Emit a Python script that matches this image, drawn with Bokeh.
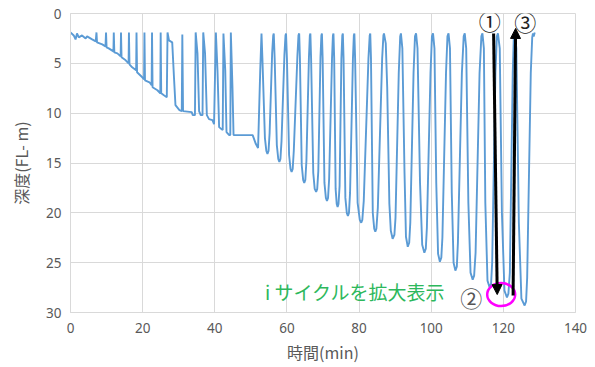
from bokeh.plotting import figure
from bokeh.models import Range1d, FixedTicker, Arrow, NormalHead
from bokeh.core.properties import value
from bokeh.embed import file_html
from bokeh.resources import INLINE

# ---------------- data ----------------
x_ticks = [0, 20, 40, 60, 80, 100, 120, 140]
y_ticks = [0, 5, 10, 15, 20, 25, 30]

# phase 1: slow descent with short surface spikes (0 - 53 min)
phase1_time = [0.0, 0.9, 1.4, 1.8, 2.3, 3.2, 4.2, 4.6, 6.0, 7.0,
               7.2, 7.35, 8.8, 9.7, 9.85, 10.0, 10.6, 11.9, 12.0, 12.15,
               13.0, 13.9, 14.0, 14.15, 15.3, 16.1, 16.2, 16.35, 17.1, 18.2,
               18.3, 18.45, 19.9, 20.4, 20.5, 20.65, 21.9, 22.5, 22.6, 22.75,
               24.1, 24.9, 25.0, 25.15, 25.9, 26.7, 26.9, 27.3, 28.2, 28.7,
               29.1, 30.2, 30.85, 31.0, 31.2, 33.6, 33.9, 34.5, 34.7, 35.2,
               35.65, 36.1, 36.6, 36.8, 37.3, 37.8, 38.4, 39.35, 39.8, 40.3,
               40.75, 41.2, 41.85, 42.2, 42.4, 42.9, 43.25, 44.0, 44.3, 44.45,
               44.9, 45.2, 50.5, 51.4, 52.0, 52.6, 52.95]
phase1_depth = [1.9, 2.2, 2.6, 2.0, 2.4, 2.2, 2.5, 2.3, 2.6, 2.8,
                1.9, 2.9, 3.1, 3.3, 1.9, 3.4, 3.5, 3.8, 1.9, 3.9,
                4.0, 4.3, 1.9, 4.4, 4.7, 5.0, 1.9, 5.1, 5.4, 5.7,
                1.9, 5.9, 6.4, 6.6, 1.9, 6.7, 6.9, 7.2, 1.9, 7.4,
                7.7, 8.0, 1.9, 8.0, 8.2, 8.4, 1.9, 2.7, 2.9, 6.5,
                9.2, 9.7, 9.8, 2.1, 9.8, 9.9, 10.2, 10.2, 1.9, 4.0,
                9.8, 10.2, 10.2, 1.9, 4.0, 10.2, 10.6, 10.7, 11.1, 1.9,
                5.7, 11.4, 11.6, 11.7, 2.0, 5.7, 11.9, 12.2, 12.2, 1.9,
                7.4, 12.2, 12.2, 13.1, 13.5, 5.7, 2.0]

# phase 2: repeated deep dives (53 - 129 min)
phase2_time = [53.2, 53.9, 54.3, 54.6, 54.9, 55.2, 55.9, 56.2, 56.35,
               56.6, 57.2, 57.6, 57.9, 58.2, 58.5, 59.3, 59.6, 59.75,
               60.0, 60.6, 61.0, 61.3, 61.6, 61.9, 62.9, 63.2, 63.4,
               63.6, 64.1, 64.5, 64.8, 65.1, 65.4, 66.1, 66.35, 66.5,
               66.7, 67.3, 67.7, 68.1, 68.4, 68.7, 69.3, 69.55, 69.7,
               69.9, 70.4, 70.8, 71.1, 71.4, 71.7, 72.5, 72.75, 72.9,
               73.1, 73.5, 73.8, 74.05, 74.3, 74.6, 75.1, 75.35, 75.5,
               75.7, 76.2, 76.6, 76.9, 77.2, 77.5, 78.3, 78.55, 78.7,
               78.9, 79.6, 80.2, 80.6, 80.9, 81.3, 82.6, 82.95, 83.1,
               83.3, 83.8, 84.2, 84.5, 84.8, 85.2, 86.4, 86.75, 86.9,
               87.4, 87.8, 88.4, 88.8, 89.3, 89.8, 90.1, 91.0, 91.4, 91.6,
               92.0, 92.6, 93.0, 93.5, 93.9, 94.2, 95.1, 95.5, 95.8,
               96.2, 96.9, 97.5, 98.1, 98.5, 98.8, 99.8, 100.2, 100.5,
               100.9, 101.4, 101.9, 102.4, 102.8, 103.1, 104.1, 104.5, 104.8,
               105.2, 105.7, 106.2, 106.7, 107.1, 107.4, 108.5, 109.0, 109.3,
               109.7, 110.3, 110.9, 111.5, 111.9, 112.3, 113.4, 113.9, 114.2,
               114.6, 115.0, 115.6, 116.2, 116.6, 116.9, 117.8, 118.2, 118.5,
               119.0, 119.6, 120.3, 121.0, 121.4, 121.8, 122.6, 122.9, 123.2,
               123.6, 124.3, 125.0, 125.9, 126.3, 126.6, 127.6, 128.0, 128.2,
               128.4, 128.7]
phase2_depth = [4.5, 12.5, 13.8, 14.1, 13.8, 12.0, 4.0, 2.2, 2.0,
                4.5, 13.2, 14.6, 14.9, 14.6, 12.8, 4.2, 2.2, 2.0,
                4.5, 14.2, 15.6, 15.9, 15.6, 13.8, 4.3, 2.2, 2.0,
                4.5, 15.2, 16.7, 17.0, 16.7, 14.8, 4.4, 2.2, 2.0,
                4.5, 16.0, 17.6, 17.9, 17.6, 15.8, 4.4, 2.2, 2.0,
                4.5, 17.0, 18.5, 18.8, 18.5, 16.6, 4.5, 2.2, 2.0,
                4.5, 17.6, 19.1, 19.4, 19.1, 17.3, 4.5, 2.2, 2.0,
                4.5, 18.5, 20.0, 20.3, 20.0, 18.0, 4.5, 2.2, 2.0,
                4.5, 19.0, 20.7, 21.0, 20.7, 18.8, 4.5, 2.2, 2.0,
                4.5, 20.0, 21.6, 21.9, 21.6, 19.5, 4.5, 2.2, 2.0,
                3.0, 7.4, 19.1, 21.8, 22.6, 22.2, 20.5, 6.0, 2.3, 2.0,
                3.5, 16.0, 22.4, 23.4, 23.0, 21.0, 6.0, 2.3, 2.0,
                3.5, 17.0, 23.2, 24.0, 23.6, 21.5, 6.0, 2.3, 2.0,
                3.5, 17.0, 24.1, 24.9, 24.5, 22.5, 6.0, 2.3, 2.0,
                3.5, 18.0, 25.0, 25.8, 25.4, 23.0, 6.0, 2.3, 2.0,
                3.5, 19.0, 26.0, 26.7, 26.3, 24.0, 6.0, 2.3, 2.0,
                3.5, 19.0, 26.8, 27.5, 27.1, 25.0, 6.0, 2.3, 2.0,
                3.5, 20.0, 27.8, 28.5, 28.1, 26.0, 6.0, 2.3, 2.0,
                3.5, 21.0, 28.6, 29.3, 28.9, 26.5, 6.0, 2.4, 2.0,
                2.3, 1.9]

# annotations (data coordinates: minutes, metres)
arrow_down = (117.3, 2.0, 118.3, 28.2)
arrow_up = (122.7, 28.3, 123.4, 1.5)
circled_labels = ["①", "②", "③"]
circled_x = [116.2, 111.1, 126.1]
circled_y = [0.7, 28.45, 0.75]
circled_colors = ["#222222", "#555555", "#222222"]
note_text = "i サイクルを拡大表示"
note_pos = (53.9, 27.9)
ellipse_pos = (119.4, 28.2)

time_all = phase1_time + phase2_time
depth_all = phase1_depth + phase2_depth

# ---------------- figure ----------------
p = figure(width=595, height=367,
           x_range=Range1d(0, 140), y_range=Range1d(30, 0),
           output_backend="svg", toolbar_location=None,
           min_border_left=70, min_border_right=20,
           min_border_top=13, min_border_bottom=55)
p.background_fill_color = "white"
p.border_fill_color = "white"
p.outline_line_color = "#D9D9D9"

p.xaxis.ticker = FixedTicker(ticks=x_ticks)
p.yaxis.ticker = FixedTicker(ticks=y_ticks)
for ax in (p.xaxis[0], p.yaxis[0]):
    ax.axis_line_color = "#D9D9D9"
    ax.major_tick_line_color = None
    ax.minor_tick_line_color = None
    ax.major_tick_out = 0
    ax.major_tick_in = 0
    ax.major_label_text_font = "Noto Sans"
    ax.major_label_text_font_size = "13.5px"
    ax.major_label_text_color = "#595959"
    ax.axis_label_text_font = "Noto Sans CJK JP"
    ax.axis_label_text_font_size = "16px"
    ax.axis_label_text_font_style = "normal"
    ax.axis_label_text_color = "#595959"
p.xaxis.major_label_standoff = 10
p.yaxis.major_label_standoff = 9
p.xaxis.axis_label = "時間(min)"
p.yaxis.axis_label = "深度(FL- m)"
p.xaxis.axis_label_standoff = 4
p.yaxis.axis_label_standoff = 10

p.xgrid.grid_line_color = "#D9D9D9"
p.ygrid.grid_line_color = "#D9D9D9"
p.xgrid.grid_line_width = 1
p.ygrid.grid_line_width = 1

p.line(time_all, depth_all, line_color="#5B9BD5", line_width=1.9)

# arrows
for (xs, ys, xe, ye) in (arrow_down, arrow_up):
    p.add_layout(Arrow(end=NormalHead(size=10, fill_color="black",
                                      line_color="black", line_width=1),
                       x_start=xs, y_start=ys, x_end=xe, y_end=ye,
                       line_color="black", line_width=3))

# magenta ellipse
p.ellipse(x=[ellipse_pos[0]], y=[ellipse_pos[1]], width=28, height=23,
          width_units="screen", height_units="screen",
          fill_color=None, line_color="#FF00FF", line_width=2.5)

# circled numbers
p.text(x=circled_x, y=circled_y, text=circled_labels,
       text_color=circled_colors, text_align="center", text_baseline="middle",
       text_font=value("Noto Sans CJK JP"), text_font_size="22px")

# green note
p.text(x=[note_pos[0]], y=[note_pos[1]], text=[note_text],
       text_color="#2DB85C", text_align="left", text_baseline="middle",
       text_font=value("Noto Sans CJK JP"), text_font_size="19px")

open("out.html", "w").write(file_html(p, INLINE))
